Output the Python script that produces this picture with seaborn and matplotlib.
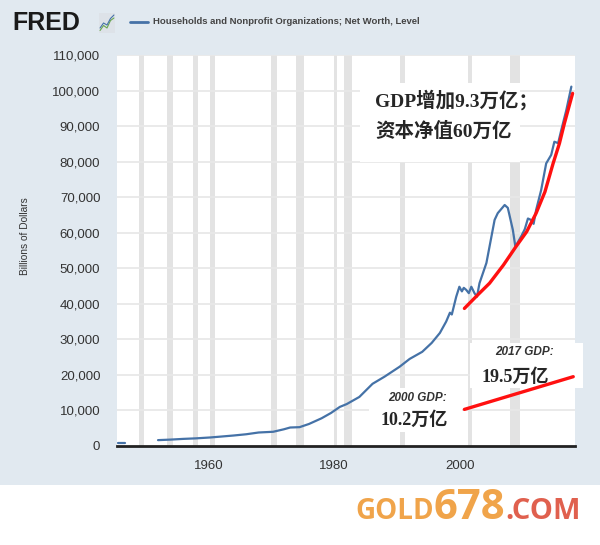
import matplotlib
matplotlib.use("Agg")
import matplotlib.pyplot as plt
import numpy as np
import pandas as pd
import seaborn as sns
from matplotlib.patches import Rectangle
from matplotlib.lines import Line2D

# household net worth, billions of dollars
stub_years = [1945.7, 1946.8]
stub_values = [900, 900]

years = [1952.0, 1954.0, 1956.0, 1958.0, 1960.3, 1962.0, 1964.0, 1966.0, 1968.0, 1970.3,
         1972.0, 1973.0, 1974.5, 1976.0, 1978.0, 1979.5, 1980.9, 1982.0, 1984.0, 1986.1,
         1988.0, 1990.4, 1992.0, 1994.0, 1995.5, 1996.8, 1997.8, 1998.4, 1998.7, 1999.4,
         1999.9, 2000.3, 2000.6, 2001.0, 2001.4, 2001.8, 2002.3, 2002.7, 2003.1, 2004.2,
         2005.5, 2006.0, 2007.1, 2007.6, 2008.4, 2008.8, 2009.7, 2010.3, 2010.8, 2011.3,
         2011.7, 2012.1, 2012.9, 2013.7, 2014.5, 2015.0, 2015.6, 2016.1, 2016.9, 2017.7]
net_worth = [1650, 1800, 2000, 2150, 2400, 2650, 2950, 3300, 3800, 4000,
             4700, 5200, 5300, 6200, 7800, 9300, 11000, 11800, 13800, 17500,
             19500, 22300, 24500, 26500, 29000, 31800, 35000, 37500, 37000, 42000,
             44800, 43500, 44500, 43900, 43000, 44800, 43000, 42000, 45800, 51500,
             63600, 65500, 67800, 67000, 60800, 56100, 58900, 61000, 64000, 63600,
             62500, 66400, 72000, 79500, 81900, 85600, 85200, 88900, 94500, 101100]

# hand-drawn red trend curve
trend_years = [2000.7, 2002.7, 2004.7, 2006.9, 2008.9, 2010.6, 2012.1, 2013.5, 2014.8,
               2015.8, 2016.6, 2017.9]
trend_values = [38700, 42300, 45800, 50900, 56100, 60300, 65500, 71500, 79500,
                85100, 90800, 99200]

# GDP line 2000 -> 2017
gdp_years = [2000.7, 2018.0]
gdp_values = [10300, 19500]

recessions = [(1948.9, 1949.8), (1953.5, 1954.4), (1957.6, 1958.3), (1960.3, 1961.1),
              (1969.9, 1970.9), (1973.9, 1975.2), (1980.0, 1980.5), (1981.5, 1982.9),
              (1990.5, 1991.2), (2001.2, 2001.9), (2007.9, 2009.5)]

yticks = list(range(0, 110001, 10000))
xticks = [1960, 1980, 2000]

sns.set_style("white")
plt.rcParams['font.family'] = ['Liberation Sans', 'DejaVu Sans']
cjk = ['Liberation Serif', 'Noto Sans CJK SC']

fig = plt.figure(figsize=(6, 5.45), dpi=100)
fig.patch.set_facecolor('white')
fig.add_artist(Rectangle((0, 0.11), 1, 0.89, transform=fig.transFigure,
                         facecolor='#e1e9f0', edgecolor='none', zorder=-10))

ax = fig.add_axes([117 / 600, 1 - 446 / 545, 458 / 600, 391 / 545])
ax.set_facecolor('white')

for a, b in recessions:
    ax.axvspan(a, b, color='#e3e3e3', lw=0, zorder=0)
for v in yticks[1:]:
    ax.axhline(v, color='#e8e8e8', lw=1.3, zorder=0.5)

# white boxes pasted over the chart
ax.add_patch(Rectangle((1984.1, 79900), 25.5, 22200, facecolor='white', edgecolor='none', zorder=1))
ax.add_patch(Rectangle((2001.6, 16300), 18.0, 12700, facecolor='white', edgecolor='none',
                       zorder=1, clip_on=False))
ax.add_patch(Rectangle((1985.5, 3900), 14.8, 12400, facecolor='white', edgecolor='none', zorder=1))

sns.lineplot(x=stub_years, y=stub_values, ax=ax, color='#4572a7', lw=1.6, zorder=3)
sns.lineplot(x=years, y=net_worth, ax=ax, color='#4572a7', lw=1.6, zorder=3,
             estimator=None, sort=False)
sns.lineplot(x=trend_years, y=trend_values, ax=ax, color='#ff1010', lw=2.4, zorder=4,
             estimator=None, sort=False)
sns.lineplot(x=gdp_years, y=gdp_values, ax=ax, color='#ff1010', lw=2.4, zorder=4)

ax.set_xlim(1945.48, 2018.28)
ax.set_ylim(0, 110000)
ax.set_yticks(yticks)
ax.set_yticklabels([f"{v:,}" for v in yticks])
ax.set_xticks(xticks)
ax.tick_params(axis='y', length=0, pad=12, labelsize=9.5, labelcolor='#333333')
ax.tick_params(axis='x', length=4, color='#cccccc', pad=6, labelsize=9.5, labelcolor='#333333')
for s in ['top', 'right', 'left']:
    ax.spines[s].set_visible(False)
ax.spines['bottom'].set_color('#222222')
ax.spines['bottom'].set_linewidth(2)
ax.spines['bottom'].set_zorder(5)
ax.set_xlabel('')
ax.set_ylabel('Billions of Dollars', fontsize=7.3, color='#333333')
ax.yaxis.set_label_coords(-0.19, 0.537)

# annotations
ax.text(1986.5, 97300, 'GDP增加9.3万亿；', family=cjk, fontsize=14, weight='semibold',
        va='center', ha='left', zorder=6)
ax.text(1986.5, 88600, '资本净值60万亿', family=cjk, fontsize=14, weight='semibold',
        va='center', ha='left', zorder=6)
ax.text(2005.6, 26400, '2017 GDP:', fontsize=8.5, style='italic', weight='bold',
        color='#333333', va='center', ha='left', zorder=6)
ax.text(2003.4, 19400, '19.5万亿', family=cjk, fontsize=13, weight='semibold',
        va='center', ha='left', zorder=6)
ax.text(1988.6, 13500, '2000 GDP:', fontsize=8.5, style='italic', weight='bold',
        color='#333333', va='center', ha='left', zorder=6)
ax.text(1987.3, 7300, '10.2万亿', family=cjk, fontsize=13, weight='semibold',
        va='center', ha='left', zorder=6)

# header
fig.text(12 / 600, 1 - 23 / 545, 'FRED', fontsize=18, weight='heavy', color='#1a1a1a',
         va='center', ha='left')
icon = fig.add_axes([99 / 600, 1 - 33 / 545, 16 / 600, 20 / 545])
icon.set_facecolor('#dde2e8')
icon.plot([0, 1, 2, 3, 4], [0.5, 1.5, 1.0, 2.5, 3.0], color='#6aa84f', lw=0.8)
icon.plot([0, 1, 2, 3, 4], [1.0, 2.0, 1.6, 2.9, 3.6], color='#4572a7', lw=0.8)
icon.set_xlim(-0.3, 4.3)
icon.set_ylim(0, 4)
icon.set_xticks([])
icon.set_yticks([])
for s in icon.spines.values():
    s.set_visible(False)
fig.add_artist(Line2D([130 / 600, 148 / 600], [1 - 22 / 545, 1 - 22 / 545],
                      color='#4572a7', lw=2, transform=fig.transFigure))
fig.text(153 / 600, 1 - 22 / 545, 'Households and Nonprofit Organizations; Net Worth, Level',
         fontsize=6.8, weight='bold', color='#444444', va='center', ha='left')

# watermark
renderer = fig.canvas.get_renderer()
x0 = 355 / 600
yb = 1 - 519 / 545
parts = [('GOLD', 20, '#f0a44a'), ('678', 30, '#f0a44a'), ('.COM', 21, '#e0604e')]
for txt, size, col in parts:
    t = fig.text(x0, yb, txt, fontsize=size, color=col, family='Open Sans', weight='bold',
                 va='baseline', ha='left')
    bb = t.get_window_extent(renderer)
    x0 = bb.x1 / fig.bbox.width

fig.savefig('out.png', dpi=100)
